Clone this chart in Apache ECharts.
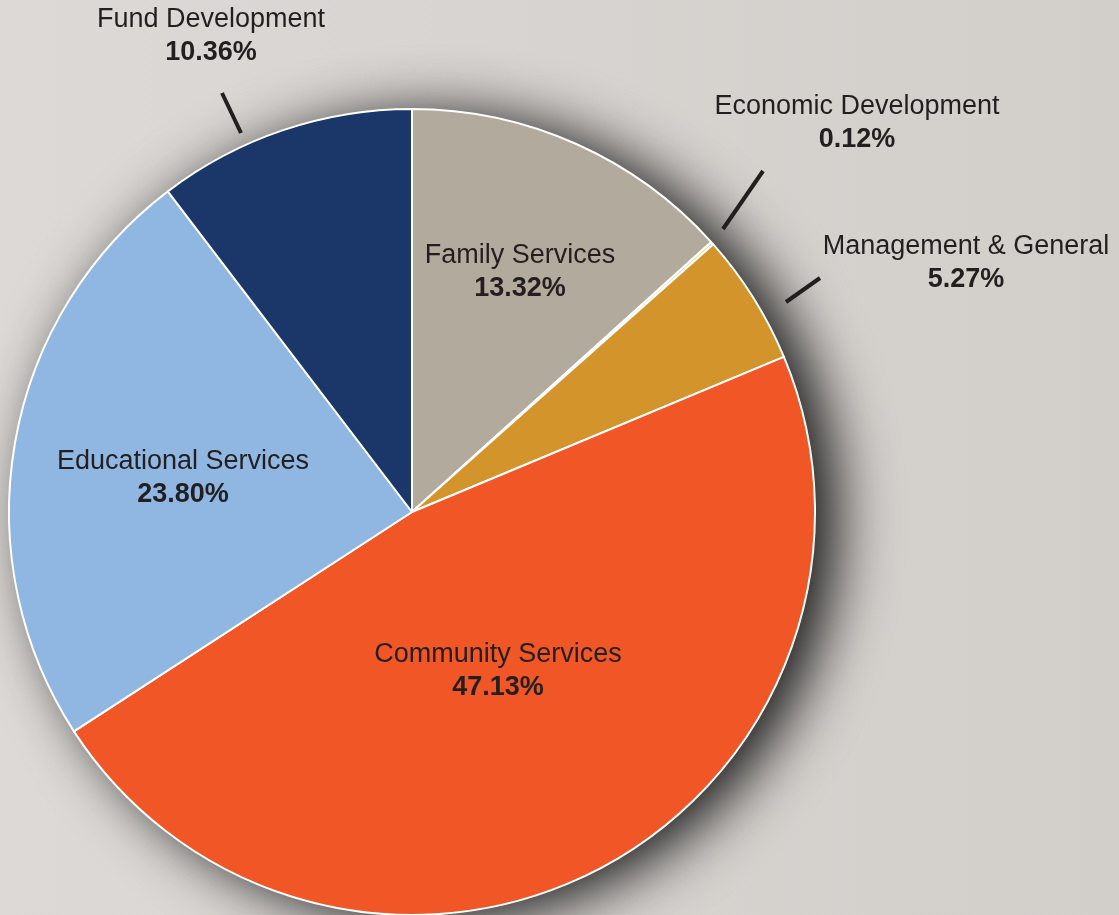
<!DOCTYPE html>
<html>
<head>
<meta charset="utf-8">
<script src="https://cdn.jsdelivr.net/npm/echarts@6/dist/echarts.min.js"></script>
<style>
html,body{margin:0;padding:0;width:100%;height:100%;overflow:hidden;}
#chart{width:1119px;height:915px;}
</style>
</head>
<body>
<div id="chart"></div>
<script>
const categories = ['Family Services','Economic Development','Management & General','Community Services','Educational Services','Fund Development'];
const values = [13.32, 0.12, 5.27, 47.13, 23.80, 10.36];
const colors = ['#b3aa9e','#f8d27a','#d3952b','#f05626','#8fb7e2','#1b3668'];
// label anchor positions (center of two-line label block)
const labelPos = [[520,272],[857,123],[966,263],[498,671],[183,478],[211,36]];
// detached leader ticks
const ticks = [[[222,93],[241,133]],[[763,171],[723,229]],[[820,278],[786,302]]];

const chart = echarts.init(document.getElementById('chart'));
const FONT = '"Liberation Sans", Arial, Helvetica, sans-serif';
chart.setOption({
  backgroundColor: {type:'linear',x:0,y:0,x2:1,y2:0,colorStops:[{offset:0,color:'#dcd9d6'},{offset:1,color:'#d2ceca'}]},
  animation:false,
  series:[
    {
      type:'pie', silent:true, center:[412,512], radius:[0,403], z:1,
      label:{show:false}, labelLine:{show:false},
      itemStyle:{color:'#ffffff',shadowColor:'rgba(0,0,0,0.9)',shadowBlur:60,shadowOffsetX:22,shadowOffsetY:6},
      data:[{value:1,name:'bg'}]
    },
    {
      type:'pie', center:[412,512], radius:[0,403], startAngle:90, clockwise:true, z:2,
      avoidLabelOverlap:false,
      itemStyle:{borderColor:'#ffffff',borderWidth:2},
      label:{
        show:true, position:'inside', color:'#231f20', fontFamily:FONT,
        formatter: p => '{n|'+p.name+'}\n{v|'+p.value.toFixed(2)+'%}',
        rich:{
          n:{fontSize:27,fontFamily:FONT,color:'#231f20',lineHeight:33,align:'center'},
          v:{fontSize:27,fontWeight:'bold',fontFamily:FONT,color:'#231f20',lineHeight:33,align:'center'}
        }
      },
      labelLine:{show:false},
      labelLayout: p => ({x:labelPos[p.dataIndex][0], y:labelPos[p.dataIndex][1], align:'center', verticalAlign:'middle'}),
      data: categories.map((c,i)=>({name:c,value:values[i],itemStyle:{color:colors[i]}}))
    }
  ],
  graphic: ticks.map(t=>({type:'line',z:10,shape:{x1:t[0][0],y1:t[0][1],x2:t[1][0],y2:t[1][1]},style:{stroke:'#231f20',lineWidth:4}}))
});
</script>
</body>
</html>
